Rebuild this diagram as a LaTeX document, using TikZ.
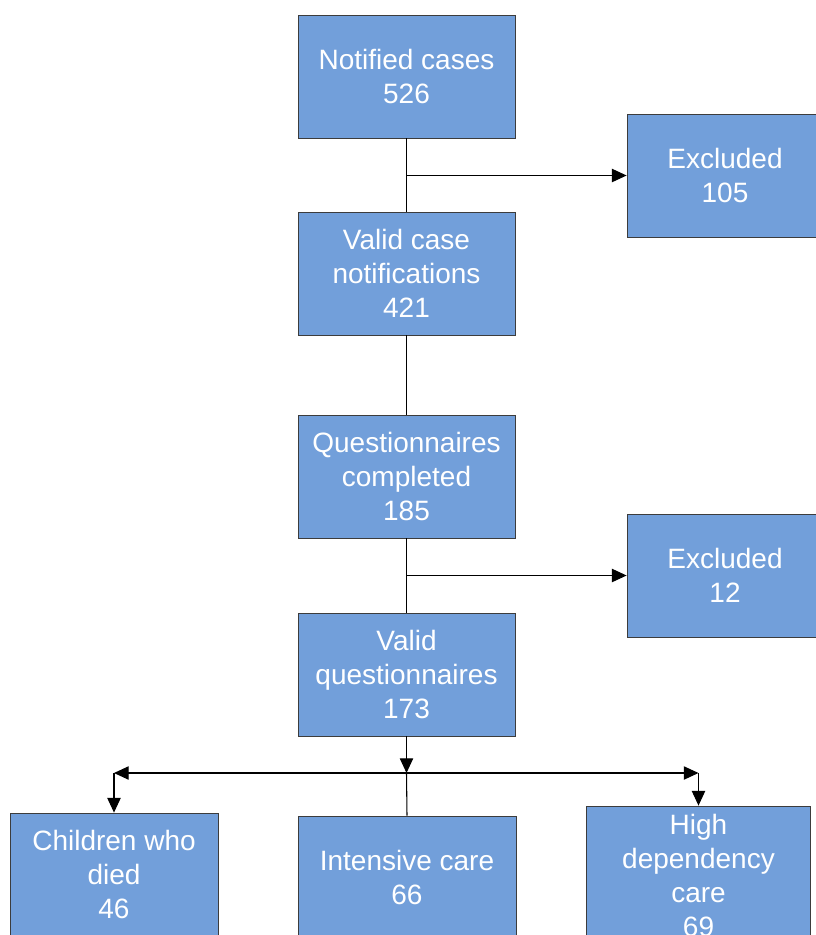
\documentclass[tikz,border=0pt]{standalone}
\usepackage{fontspec}
\setmainfont{Liberation Sans}
\usetikzlibrary{arrows.meta}
\definecolor{boxblue}{RGB}{114,159,218}
\definecolor{boxline}{RGB}{60,60,60}

\begin{document}
\begin{tikzpicture}[x=0.75pt,y=-0.75pt,
    flowbox/.style={rectangle,draw=boxline,line width=0.6pt,fill=boxblue,text=white,
      align=center,inner sep=0pt,minimum width=#1*0.75pt,minimum height=123*0.75pt,
      font=\fontsize{21}{25.5}\selectfont},
    flowbox/.default=217,
    link/.style={line width=0.8pt},
    arr/.style={line width=0.8pt,-{Triangle[length=11pt,width=10pt]}}]
    \useasboundingbox (0,0) rectangle (816,935);
    % main column
    \node[flowbox] (notified) at (406.5,76.5) {Notified cases\\526};
    \node[flowbox] (valid) at (406.5,273.5) {Valid case\\notifications\\421};
    \node[flowbox] (quest) at (406.5,476.5) {Questionnaires\\completed\\185};
    \node[flowbox] (validq) at (406.5,674.5) {Valid\\questionnaires\\173};
    % exclusions
    \node[flowbox=196] (excl1) at (725,175.5) {Excluded\\105};
    \node[flowbox=196] (excl2) at (725,575.5) {Excluded\\12};
    % outcomes
    \node[flowbox=208] (died) at (114,874.5) {Children who\\died\\46};
    \node[flowbox=218] (icu) at (407,877.5) {Intensive care\\66};
    \node[flowbox=224, minimum height=138*0.75pt] (hdc) at (698.5,875) {High\\dependency\\care\\69};
    \draw[link] (notified.south)--(valid.north);
    \draw[arr] (notified.south |- excl1.west)--(excl1.west);
    \draw[link] (valid.south)--(quest.north);
    \draw[link] (quest.south)--(validq.north);
    \draw[arr] (quest.south |- excl2.west)--(excl2.west);
    \coordinate (split) at (406.5,773);
    \coordinate (left) at (died.north |- split);
    \coordinate (right) at (hdc.north |- split);
    \draw[arr] (validq.south)--(split);
    \draw[arr] (split)--(left);
    \draw[arr] (left)--(died.north);
    \draw[arr] (split)--(right);
    \draw[arr] (right)--(hdc.north);
    \draw[link] (split)--(icu.north);
\end{tikzpicture}
\end{document}
